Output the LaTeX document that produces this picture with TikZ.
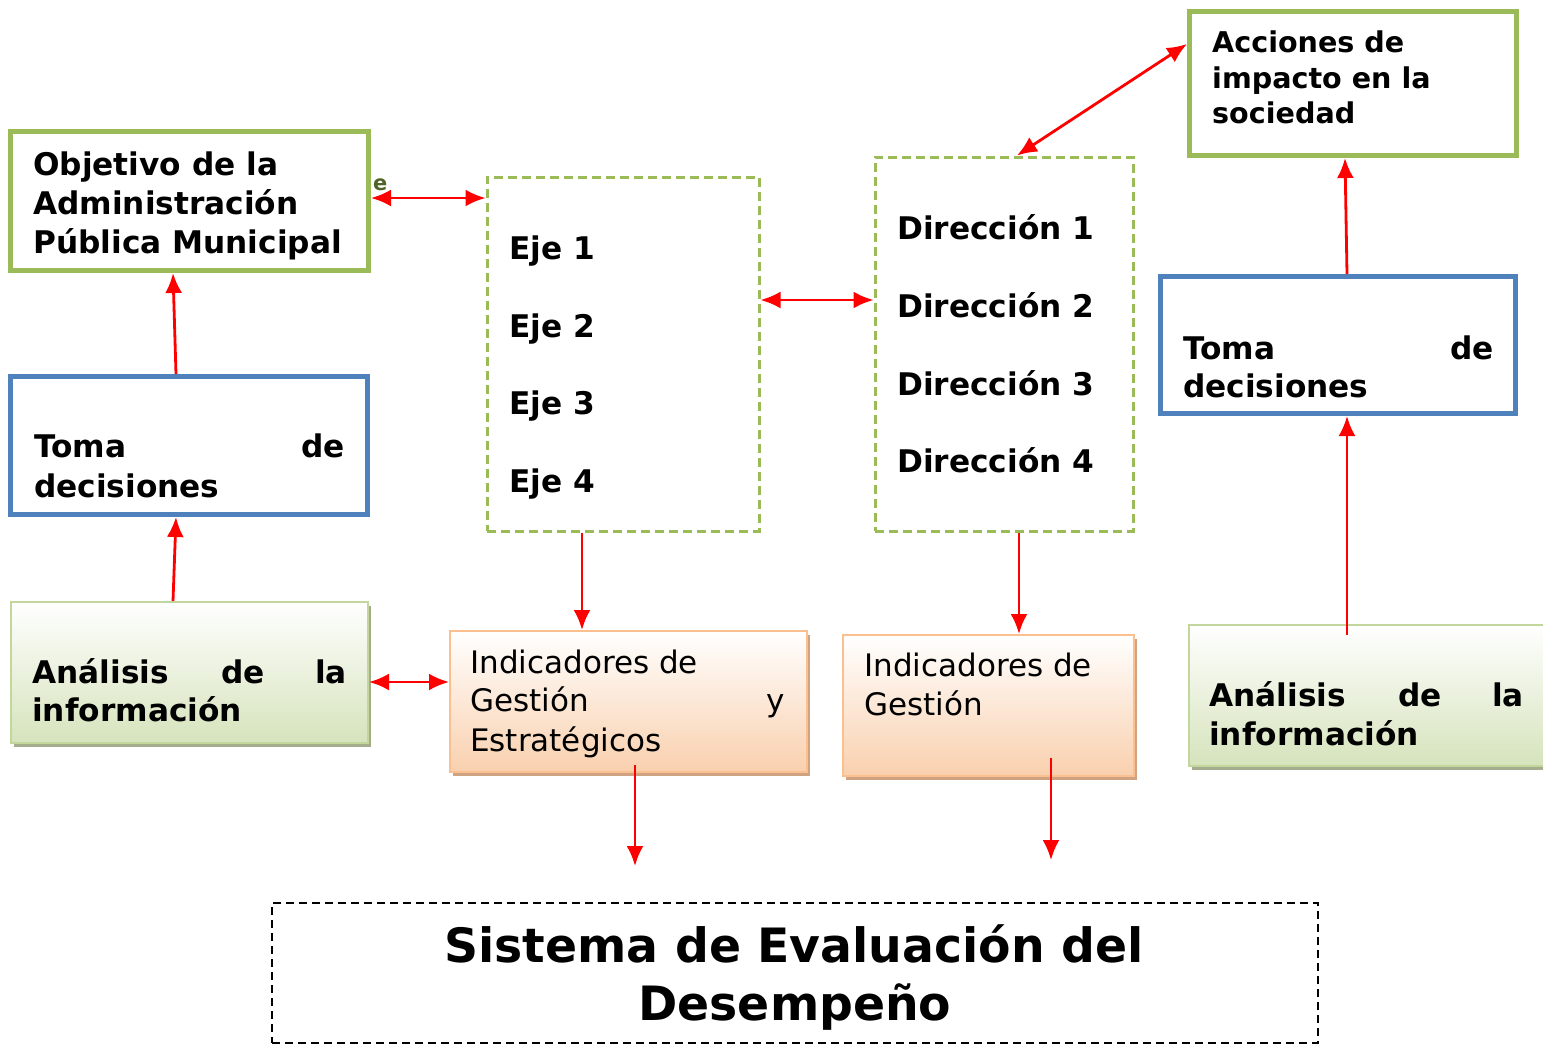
\documentclass[tikz,border=0pt]{standalone}
\usepackage{fontspec}
\setmainfont{DejaVu Sans}
\usetikzlibrary{arrows.meta,shadows,calc}
\definecolor{gborder}{HTML}{9BBB59}
\definecolor{bborder}{HTML}{4F81BD}
\definecolor{lgborder}{HTML}{C3D69B}
\definecolor{lgfill}{HTML}{D6E3BC}
\definecolor{shgreen}{HTML}{A4AD8E}
\definecolor{oborder}{HTML}{FAC090}
\definecolor{ofill}{HTML}{F9D0AE}
\definecolor{shorange}{HTML}{CFA281}
\definecolor{olive}{HTML}{4F6228}
\begin{document}
\begin{tikzpicture}[x=1pt,y=-1pt,
  thickgreen/.style={draw=gborder, line width=5pt, fill=white, inner sep=0pt},
  thickblue/.style={draw=bborder, line width=5pt, fill=white, inner sep=0pt},
  greengrad/.style={draw=lgborder, line width=2pt, inner sep=0pt, top color=white, bottom color=lgfill,
     general shadow={fill=shgreen, shadow xshift=3pt, shadow yshift=-4pt}},
  orangegrad/.style={draw=oborder, line width=2pt, inner sep=0pt, top color=white, bottom color=ofill,
     general shadow={fill=shorange, shadow xshift=3pt, shadow yshift=-4pt}},
  dashgreen/.style={draw=gborder, line width=3pt, dash pattern=on 9pt off 5pt, inner sep=0pt},
  dashblack/.style={draw=black, line width=2pt, dash pattern=on 8pt off 5pt, inner sep=0pt},
  boldtxt/.style={font=\fontsize{31.2}{39}\selectfont\bfseries, inner sep=0pt},
  acctxt/.style={font=\fontsize{28.6}{35}\selectfont\bfseries, inner sep=0pt},
  regtxt/.style={font=\fontsize{31}{38}\selectfont, inner sep=0pt},
  titletxt/.style={font=\fontsize{47.3}{58}\selectfont\bfseries, inner sep=0pt},
  redarrow/.style={draw=red, line width=2.8pt, -{Latex[length=20pt,width=17pt]}},
  redbi/.style={draw=red, line width=2.8pt, {Latex[length=20pt,width=17pt]}-{Latex[length=20pt,width=17pt]}}
]
\clip (0,0) rectangle (1543,1045);

% boxes
\node[thickgreen, minimum width=358pt, minimum height=139pt] (obj) at (189.5,201) {};
\node[thickblue, minimum width=357pt, minimum height=138pt] (tomaL) at (189,445.5) {};
\node[greengrad, minimum width=357pt, minimum height=141pt] (anaL) at (189.5,672.5) {};
\node[dashgreen, minimum width=272pt, minimum height=354pt] (eje) at (623,354) {};
\node[dashgreen, minimum width=258pt, minimum height=374pt] (dir) at (1004,344) {};
\node[thickgreen, minimum width=327pt, minimum height=144pt] (acc) at (1353,83.5) {};
\node[thickblue, minimum width=355pt, minimum height=137pt] (tomaR) at (1338,345) {};
\node[greengrad, minimum width=361pt, minimum height=141pt] (anaR) at (1369.5,695.5) {};
\node[orangegrad, minimum width=357pt, minimum height=141pt] (ind1) at (628.5,701.5) {};
\node[orangegrad, minimum width=291pt, minimum height=141pt] (ind2) at (988.5,705.5) {};
\node[dashblack, minimum width=1046pt, minimum height=140pt] (sist) at (795,973) {};

% texts
\node[boldtxt, anchor=base west] (obj1) at (33,175) {Objetivo de la};
\node[boldtxt, anchor=base west] (obj2) at (33,214) {Administración};
\node[boldtxt, anchor=base west] (obj3) at (33,253) {Pública Municipal};
\node[font=\fontsize{21}{23}\selectfont\bfseries, text=olive, inner sep=0pt, anchor=base west] (elabel) at (373,190) {e};

\node[boldtxt, anchor=base west] (tl1) at (34,457) {Toma};
\node[boldtxt, anchor=base east] (tl2) at (345,457) {de};
\node[boldtxt, anchor=base west] (tl3) at (34,497) {decisiones};

\node[boldtxt, anchor=base west] (al1) at (32,683) {Análisis};
\node[boldtxt, anchor=base] (al2) at (243,683) {de};
\node[boldtxt, anchor=base east] (al3) at (347,683) {la};
\node[boldtxt, anchor=base west] (al4) at (32,721) {información};

\node[boldtxt, anchor=base west] (e1) at (509,259) {Eje 1};
\node[boldtxt, anchor=base west] (e2) at (509,337) {Eje 2};
\node[boldtxt, anchor=base west] (e3) at (509,414) {Eje 3};
\node[boldtxt, anchor=base west] (e4) at (509,492) {Eje 4};

\node[boldtxt, anchor=base west] (d1) at (897,239) {Dirección 1};
\node[boldtxt, anchor=base west] (d2) at (897,317) {Dirección 2};
\node[boldtxt, anchor=base west] (d3) at (897,395) {Dirección 3};
\node[boldtxt, anchor=base west] (d4) at (897,472) {Dirección 4};

\node[acctxt, anchor=base west] (ac1) at (1212,52) {Acciones de};
\node[acctxt, anchor=base west] (ac2) at (1212,88) {impacto en la};
\node[acctxt, anchor=base west] (ac3) at (1212,123) {sociedad};

\node[boldtxt, anchor=base west] (tr1) at (1183,359) {Toma};
\node[boldtxt, anchor=base east] (tr2) at (1494,359) {de};
\node[boldtxt, anchor=base west] (tr3) at (1183,397) {decisiones};

\node[boldtxt, anchor=base west] (ar1) at (1209,706) {Análisis};
\node[boldtxt, anchor=base] (ar2) at (1420,706) {de};
\node[boldtxt, anchor=base east] (ar3) at (1524,706) {la};
\node[boldtxt, anchor=base west] (ar4) at (1209,745) {información};

\node[regtxt, anchor=base west] (i11) at (470,673) {Indicadores de};
\node[regtxt, anchor=base west] (i12) at (470,711) {Gestión};
\node[regtxt, anchor=base east] (i13) at (785,711) {y};
\node[regtxt, anchor=base west] (i14) at (470,751) {Estratégicos};

\node[regtxt, anchor=base west] (i21) at (864,676) {Indicadores de};
\node[regtxt, anchor=base west] (i22) at (864,715) {Gestión};

\node[titletxt, anchor=base] (s1) at (794,962) {Sistema de Evaluación del};
\node[titletxt, anchor=base] (s2) at (795,1020) {Desempeño};

% connectors
\coordinate (oe) at ([yshift=3pt]obj.east);
\coordinate (ee) at ([yshift=54pt]eje.east);
\coordinate (ae) at ([yshift=-9.5pt]anaL.east);
\coordinate (es) at ([xshift=-41pt]eje.south);
\coordinate (ds) at ([xshift=15pt]dir.south);
\coordinate (k1end) at (635,866);
\coordinate (k2end) at (1051,860);
\draw[redbi] (oe) -- (eje.west |- oe);
\draw[redbi] (ee) -- (dir.west |- ee);
\draw[redarrow] (es) -- (es |- ind1.north);
\draw[redarrow] (ds) -- (ds |- ind2.north);
\draw[redbi] ([xshift=13pt]dir.north) -- ([yshift=39.5pt]acc.west);
\draw[redarrow] ([xshift=9pt]tomaR.north) -- ([xshift=-8pt]acc.south);
\draw[redarrow] ([xshift=-22.5pt,yshift=-11pt]anaR.north) -- ([xshift=9pt]tomaR.south);
\draw[redarrow] ([xshift=-13pt]tomaL.north) -- ([xshift=-16.5pt]obj.south);
\draw[redarrow] ([xshift=-16.5pt]anaL.north) -- ([xshift=-13pt]tomaL.south);
\draw[redbi] (ae) -- (ind1.west |- ae);
\draw[redarrow] ([xshift=6.5pt,yshift=8pt]ind1.south) -- (k1end);
\draw[redarrow] ([xshift=62.5pt,yshift=19pt]ind2.south) -- (k2end);
\end{tikzpicture}
\end{document}
